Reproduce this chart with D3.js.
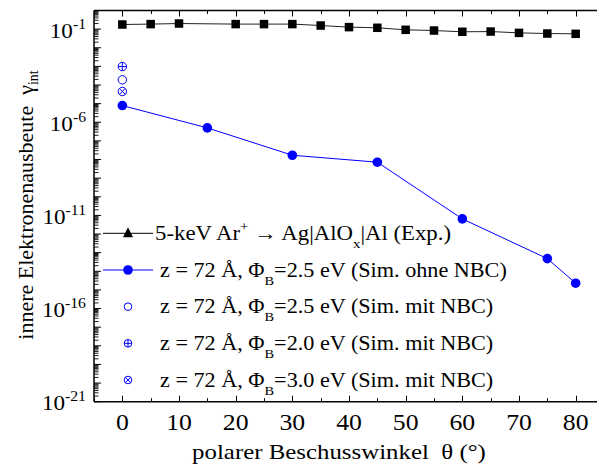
<!DOCTYPE html>
<html><head><meta charset="utf-8">
<script src="https://cdn.jsdelivr.net/npm/d3@7"></script>
<style>body{margin:0;background:#fff}svg{display:block}</style>
</head><body><svg id="c" width="597" height="473"></svg>
<script>
const expAngles = [0,5,10,20,25,30,35,40,45,50,55,60,65,70,75,80];
const expYield  = [0.177,0.186,0.200,0.186,0.186,0.186,0.156,0.128,0.118,0.092,0.084,0.072,0.074,0.063,0.058,0.056];
const simAngles = [0,15,30,45,60,75,80];
const simYield  = [7.9e-6,5.0e-7,1.7e-8,7.2e-9,6.5e-12,4.8e-14,2.3e-15];
const nbcAngle = [0];
const nbc25 = [1.9e-4];
const nbc20 = [9.8e-4];
const nbc30 = [4.5e-5];
const xTicks = [0,10,20,30,40,50,60,70,80];
const yLabelExps = [-1,-6,-11,-16,-21];

const svg = d3.select("#c");
const BLUE = "#0000ff";
const FONT = "Liberation Serif";
const SX = 1.12;
const x = d3.scaleLinear().domain([-5,85]).range([94,604]);
const y = d3.scaleLog().domain([1,1e-21]).range([10.5,401.7]);

function txt(sel){ return sel.append("text").style("font-family",FONT).attr("fill","#000"); }
function stxt(sel,px,py,sx){ return txt(sel.append("g").attr("transform",`translate(${px},${py}) scale(${sx},1)`)); }

// frame
const g = svg.append("g");
g.append("line").attr("x1",94).attr("x2",597).attr("y1",y.range()[0]).attr("y2",y.range()[0]).attr("stroke","#000").attr("stroke-width",1.5);
g.append("line").attr("x1",94).attr("x2",597).attr("y1",y.range()[1]).attr("y2",y.range()[1]).attr("stroke","#000").attr("stroke-width",1.5);
g.append("line").attr("x1",94).attr("x2",94).attr("y1",y.range()[0]).attr("y2",y.range()[1]).attr("stroke","#000").attr("stroke-width",1.5);

// x ticks (inward, top & bottom)
const xAll = d3.range(-5,86,5);
xAll.forEach(v=>{
  const L = (v%10===0)?6:3.5;
  const X = Math.round(x(v))+0.5;
  if (X>597) return;
  g.append("line").attr("x1",X).attr("x2",X).attr("y1",y.range()[1]).attr("y2",y.range()[1]-L).attr("stroke","#000");
  g.append("line").attr("x1",X).attr("x2",X).attr("y1",y.range()[0]).attr("y2",y.range()[0]+L).attr("stroke","#000");
});
xTicks.forEach(v=>{
  stxt(g,x(v),430,1.12).attr("text-anchor","middle").attr("font-size",23).text(v);
});

// y ticks
for (let e=0;e>=-21;e--){
  const Y = y(Math.pow(10,e));
  g.append("line").attr("x1",94).attr("x2",101).attr("y1",Y).attr("y2",Y).attr("stroke","#000");
  if (e>-21) for (let m=2;m<=9;m++){
    const Ym = y(m*Math.pow(10,e-1));
    g.append("line").attr("x1",94).attr("x2",98.5).attr("y1",Ym).attr("y2",Ym).attr("stroke","#000").attr("stroke-width",0.9);
  }
}
yLabelExps.forEach(e=>{
  const t = stxt(g,86,y(Math.pow(10,e))+8.5,1.05).attr("text-anchor","end").attr("font-size",22);
  t.append("tspan").text("10");
  t.append("tspan").attr("dy",-9).attr("font-size",15).text(String(e));
});

// axis titles
stxt(svg,339,459,1.13).attr("text-anchor","middle").attr("font-size",22)
  .text("polarer Beschusswinkel\u00a0\u00a0θ (°)");
const yt = txt(svg).attr("transform","translate(33,205) rotate(-90)").attr("text-anchor","middle").attr("font-size",22);
yt.append("tspan").text("innere Elektronenausbeute\u00a0\u00a0γ");
yt.append("tspan").attr("dy",5).attr("font-size",14).text("int");

// lines
const lineGen = d3.line().x(d=>x(d[0])).y(d=>y(d[1]));
svg.append("path").datum(expAngles.map((a,i)=>[a,expYield[i]])).attr("d",lineGen).attr("fill","none").attr("stroke","#222").attr("stroke-width",1);
svg.append("path").datum(simAngles.map((a,i)=>[a,simYield[i]])).attr("d",lineGen).attr("fill","none").attr("stroke",BLUE).attr("stroke-width",1);

// markers
function square(sel,cx,cy,s){ sel.append("rect").attr("x",cx-s/2).attr("y",cy-s/2).attr("width",s).attr("height",s).attr("fill","#000"); }
function dot(sel,cx,cy,r){ sel.append("circle").attr("cx",cx).attr("cy",cy).attr("r",r).attr("fill",BLUE); }
function ring(sel,cx,cy,r){ sel.append("circle").attr("cx",cx).attr("cy",cy).attr("r",r).attr("fill","none").attr("stroke",BLUE).attr("stroke-width",1); }
function ringPlus(sel,cx,cy,r){ ring(sel,cx,cy,r);
  sel.append("path").attr("d",`M${cx-r},${cy}H${cx+r}M${cx},${cy-r}V${cy+r}`).attr("stroke",BLUE).attr("stroke-width",1); }
function ringX(sel,cx,cy,r){ ring(sel,cx,cy,r); const k=r*0.707;
  sel.append("path").attr("d",`M${cx-k},${cy-k}L${cx+k},${cy+k}M${cx-k},${cy+k}L${cx+k},${cy-k}`).attr("stroke",BLUE).attr("stroke-width",1); }
function tri(sel,cx,cy,s){ sel.append("path").attr("d",`M${cx},${cy-s*0.6}L${cx+s/2},${cy+s*0.4}L${cx-s/2},${cy+s*0.4}Z`).attr("fill","#000"); }

const mk = svg.append("g");
expAngles.forEach((a,i)=>square(mk,x(a),y(expYield[i]),8.5));
simAngles.forEach((a,i)=>dot(mk,x(a),y(simYield[i]),4.8));
nbcAngle.forEach((a,i)=>{ ring(mk,x(a),y(nbc25[i]),4.2); ringPlus(mk,x(a),y(nbc20[i]),4.2); ringX(mk,x(a),y(nbc30[i]),4.2); });

// legend
const lg = svg.append("g");
const rows = [233.3,270,306.7,343.3,380];
const lx1=103, lx2=153, lm=128;
lg.append("line").attr("x1",lx1).attr("x2",lx2).attr("y1",rows[0]).attr("y2",rows[0]).attr("stroke","#000");
tri(lg,lm,rows[0],10);
lg.append("line").attr("x1",lx1).attr("x2",lx2).attr("y1",rows[1]).attr("y2",rows[1]).attr("stroke",BLUE);
dot(lg,lm,rows[1],4.8);
ring(lg,lm,rows[2],3.8);
ringPlus(lg,lm,rows[3],3.8);
ringX(lg,lm,rows[4],3.8);

const t1 = stxt(lg,155,rows[0]+6.7,1.14).attr("font-size",20);
t1.append("tspan").text("5-keV Ar");
t1.append("tspan").attr("dy",-9).attr("font-size",13).text("+");
t1.append("tspan").attr("dy",9).text(" \u2192 Ag|AlO");
t1.append("tspan").attr("dy",8).attr("font-size",13).text("x");
t1.append("tspan").attr("dy",-8).text("|Al (Exp.)");

const legTxt = [["2.5","Sim. ohne NBC"],["2.5","Sim. mit NBC"],["2.0","Sim. mit NBC"],["3.0","Sim. mit NBC"]];
legTxt.forEach((d,i)=>{
  const t = stxt(lg,160,rows[i+1]+6.7,1.11).attr("font-size",20);
  t.append("tspan").text("z = 72 \u00c5, \u03a6");
  t.append("tspan").attr("dy",8).attr("font-size",13).text("B");
  t.append("tspan").attr("dy",-8).text("="+d[0]+" eV ("+d[1]+")");
});
</script></body></html>
